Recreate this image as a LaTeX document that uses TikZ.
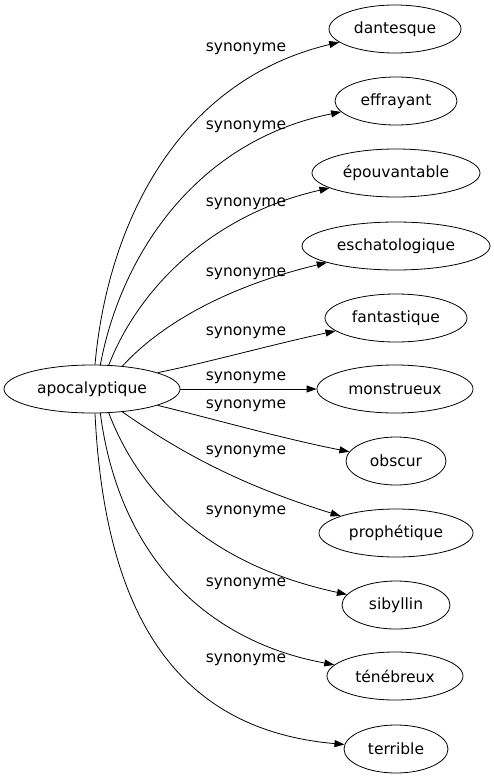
\documentclass[tikz,border=0pt]{standalone}
\usepackage{fontspec}
\setmainfont{DejaVu Sans}
\usetikzlibrary{shapes.geometric,arrows.meta}
\begin{document}
\begin{tikzpicture}[x=1pt,y=-1pt,
  word/.style={draw,ellipse,line width=0.8pt,minimum height=48pt,inner sep=0pt,font=\fontsize{15.5}{18}\selectfont},
  rel/.style={line width=0.8pt,-{Triangle[length=10pt,width=7pt]}},
  lab/.style={font=\fontsize{15.5}{18}\selectfont,inner sep=0pt}]
\useasboundingbox (0,0) rectangle (493,779);
\node[word,minimum width=176pt] (apo) at (92,389) {apocalyptique};
\node[word,minimum width=132pt] (n1) at (395,29) {dantesque};
\node[word,minimum width=122pt] (n2) at (396,101) {effrayant};
\node[word,minimum width=168pt] (n3) at (396,173) {épouvantable};
\node[word,minimum width=188pt] (n4) at (396,246) {eschatologique};
\node[word,minimum width=142pt] (n5) at (396,318) {fantastique};
\node[word,minimum width=156pt] (n6) at (395,389) {monstrueux};
\node[word,minimum width=100pt] (n7) at (396,461) {obscur};
\node[word,minimum width=154pt] (n8) at (396,533) {prophétique};
\node[word,minimum width=108pt] (n9) at (396,605) {sibyllin};
\node[word,minimum width=136pt] (n10) at (395,676) {ténébreux};
\node[word,minimum width=104pt] (n11) at (396,749) {terrible};

\draw[rel] (apo.83) .. controls (108,220) and (180,80) .. (n1);
\draw[rel] (apo.71) .. controls (122,250) and (200,140) .. (n2);
\draw[rel] (apo.55) .. controls (138,290) and (210,215) .. (n3);
\draw[rel] (apo.37) .. controls (160,325) and (225,287) .. (n4);
\draw[rel] (apo.14) .. controls (210,362) and (270,345) .. (n5);
\draw[rel] (apo) -- (n6);
\draw[rel] (apo.-14) .. controls (210,418) and (280,438) .. (n7);
\draw[rel] (apo.-37) .. controls (170,445) and (230,482) .. (n8);
\draw[rel] (apo.-55) .. controls (140,495) and (210,565) .. (n9);
\draw[rel] (apo.-71) .. controls (118,550) and (200,640) .. (n10);
\draw[rel] (apo.-83) .. controls (105,620) and (180,730) .. (n11);

\node[lab] (l1) at (246,49) {synonyme};
\node[lab] (l2) at (246,127) {synonyme};
\node[lab] (l3) at (246,204) {synonyme};
\node[lab] (l4) at (246,274) {synonyme};
\node[lab] (l5) at (246,333) {synonyme};
\node[lab] (l6) at (246,378) {synonyme};
\node[lab] (l7) at (246,406) {synonyme};
\node[lab] (l8) at (246,452) {synonyme};
\node[lab] (l9) at (246,512) {synonyme};
\node[lab] (l10) at (246,584) {synonyme};
\node[lab] (l11) at (246,660) {synonyme};
\end{tikzpicture}
\end{document}
